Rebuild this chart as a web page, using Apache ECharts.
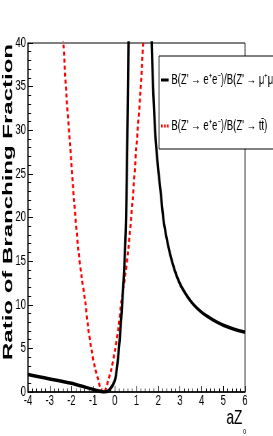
<!DOCTYPE html>
<html>
<head>
<meta charset="utf-8">
<script src="https://cdn.jsdelivr.net/npm/echarts@6/dist/echarts.min.js"></script>
<style>
html, body { margin:0; padding:0; overflow:hidden; background:#fff; width:273px; height:436px; }
#c { width:400px; height:436px; transform: scaleX(0.6825); transform-origin: 0 0; }
</style>
</head>
<body>
<div id="c"></div>
<script>
// ---- data ----
var xTicks = [-4, -3, -2, -1, 0, 1, 2, 3, 4, 5, 6];
var yTicks = [0, 5, 10, 15, 20, 25, 30, 35, 40];

var seriesNames = [
  "B(Z' \u2192 e\u207Ae\u207B)/B(Z' \u2192 \u03BC\u207A\u03BC\u207B)",
  "B(Z' \u2192 e\u207Ae\u207B)/B(Z' \u2192 tt\u0304)"
];

// ratio to mu+mu- (black); null marks the break at the pole
var blackX = [-4, -3.5, -3, -2.5, -2, -1.5, -1, -0.75, -0.5, -0.25, 0, 0.1, 0.2, 0.3, 0.4, 0.47, 0.52, 0.56, 0.6, 0.63, 0.67,
              1.15,
              1.64, 1.7, 1.78, 1.88, 2.0, 2.1, 2.25, 2.5, 2.75, 3.0, 3.25, 3.5, 3.75, 4.0, 4.25, 4.5, 4.75, 5.0, 5.5, 6.0];
var blackY = [2.0, 1.75, 1.5, 1.25, 1.0, 0.65, 0.3, 0.12, 0.0, 0.25, 1.3, 2.8, 5.3, 8.6, 12.6, 16.2, 20, 26, 33, 40, 50,
              null,
              50, 40, 34, 29, 25.5, 23.2, 19.6, 16.3, 14, 12.4, 11.3, 10.4, 9.7, 9.15, 8.7, 8.3, 7.95, 7.65, 7.2, 6.85];

// ratio to t tbar (red dotted)
var redX = [-2.45, -2.37, -2.23, -2.06, -1.88, -1.68, -1.53, -1.37, -1.23, -1.07, -0.9, -0.76, -0.65, -0.53,
            -0.41, -0.30, -0.16, 0.01, 0.17, 0.31, 0.47, 0.62, 0.82, 1.0, 1.17, 1.31, 1.39];
var redY = [43, 40, 34, 28.3, 22, 16.3, 13.2, 10.5, 7.4, 4.8, 2.6, 1.4, 0.35, 0,
            0.35, 1.4, 2.6, 4.8, 7.4, 10.5, 13.2, 16.3, 22, 28.3, 34, 40, 43];

function pairs(xs, ys) {
  return xs.map(function (x, i) { return [x, ys[i] === null ? '-' : ys[i]]; });
}

var chart = echarts.init(document.getElementById('c'), null, { renderer: 'canvas' });
var FONT = 'Liberation Sans, Arial, Helvetica, sans-serif';

chart.setOption({
  animation: false,
  backgroundColor: '#fff',
  grid: { left: 41, right: 41, top: 43, bottom: 44, show: true, borderColor: '#000', borderWidth: 1, backgroundColor: 'transparent' },
  xAxis: {
    type: 'value', min: xTicks[0], max: xTicks[xTicks.length - 1], interval: 1,
    axisLine: { onZero: false, lineStyle: { color: '#000', width: 1.5 } },
    axisTick: { inside: true, length: 6, lineStyle: { color: '#000', width: 1 } },
    minorTick: { show: true, splitNumber: 5, length: 3.5, lineStyle: { color: '#000', width: 1 } },
    splitLine: { show: false },
    axisLabel: { color: '#000', fontSize: 14, fontFamily: FONT, margin: 2, showMinLabel: true, showMaxLabel: true }
  },
  yAxis: {
    type: 'value', min: yTicks[0], max: yTicks[yTicks.length - 1], interval: 5,
    axisLine: { onZero: false, lineStyle: { color: '#000', width: 1.5 } },
    axisTick: { inside: true, length: 7, lineStyle: { color: '#000', width: 1 } },
    minorTick: { show: true, splitNumber: 5, length: 4.5, lineStyle: { color: '#000', width: 1 } },
    splitLine: { show: false },
    axisLabel: { color: '#000', fontSize: 14, fontFamily: FONT, margin: 3, showMinLabel: true, showMaxLabel: true }
  },
  legend: {
    show: true,
    orient: 'vertical',
    left: 233, top: 56,
    padding: [17, 60, 16, 3],
    itemGap: 32,
    itemWidth: 11, itemHeight: 3,
    symbolKeepAspect: false,
    backgroundColor: '#fff',
    borderColor: '#000', borderWidth: 1,
    textStyle: { color: '#000', fontSize: 14, fontFamily: FONT, padding: [0, 0, 0, -1] },
    data: [
      { name: seriesNames[0], icon: 'rect' },
      { name: seriesNames[1], icon: 'path://M0,0h2v2h-2zM3.5,0h2v2h-2zM7,0h2v2h-2z' }
    ]
  },
  graphic: [
    {
      type: 'text', x: 12.5, y: 202, rotation: Math.PI / 2, scaleX: 1.2,
      style: { text: 'Ratio of Branching Fraction', font: 'bold 20px ' + FONT, fill: '#000', align: 'center', verticalAlign: 'middle' }
    },
    {
      type: 'text', x: 355, y: 418,
      style: { text: 'aZ', font: '20px ' + FONT, fill: '#000', align: 'right', verticalAlign: 'middle' }
    },
    {
      type: 'text', x: 356, y: 432,
      style: { text: '0', font: '8px ' + FONT, fill: '#000', align: 'left', verticalAlign: 'middle' }
    }
  ],
  series: [
    {
      name: seriesNames[0], type: 'line', data: pairs(blackX, blackY),
      showSymbol: false, symbol: 'none', smooth: 0.25, connectNulls: false, clip: true,
      lineStyle: { color: '#000', width: 3.5 }, itemStyle: { color: '#000' }, z: 3
    },
    {
      name: seriesNames[1], type: 'line', data: pairs(redX, redY),
      showSymbol: false, symbol: 'none', smooth: 0.3, clip: true,
      lineStyle: { color: '#ff0000', width: 3, type: [4, 3] }, itemStyle: { color: '#ff0000' }, z: 2
    }
  ]
});
</script>
</body>
</html>
